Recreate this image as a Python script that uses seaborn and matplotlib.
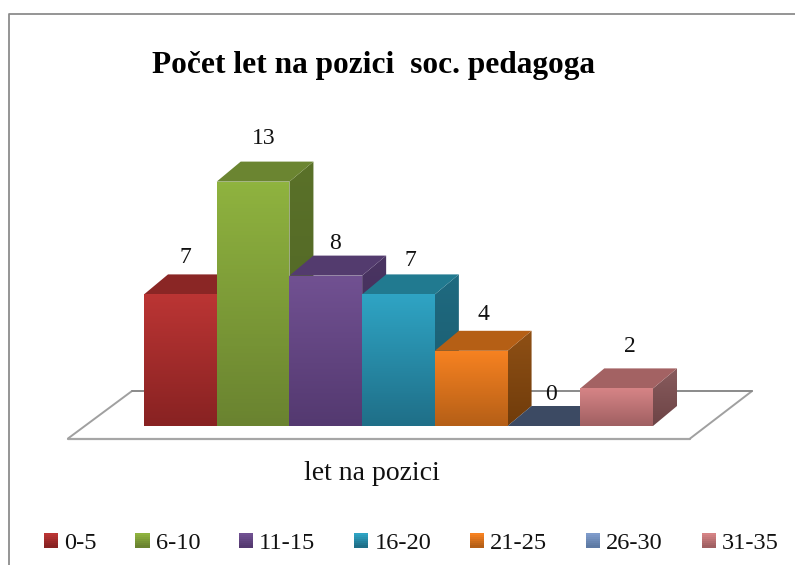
"""
Počet let na pozici: faux 3D bars on top of a seaborn barplot
"""
import matplotlib
matplotlib.use("Agg")
import matplotlib.pyplot as plt
from matplotlib.colors import LinearSegmentedColormap
from matplotlib.legend_handler import HandlerPatch
from matplotlib.lines import Line2D
from matplotlib.patches import Patch, Polygon, Rectangle
import numpy as np
import pandas as pd
import seaborn as sns

categories = ["0-5", "6-10", "11-15", "16-20", "21-25", "26-30", "31-35"]
counts = [7, 13, 8, 7, 4, 0, 2]
title = "Počet let na pozici  soc. pedagoga"
xlabel = "let na pozici"

front_top = ["#bb3534", "#8fb33f", "#715192", "#2fa4c4", "#f78221", "#7f9ccb", "#d68486"]
front_bottom = ["#882222", "#6a8330", "#543970", "#1f6f88", "#b55f17", "#5e7aa4", "#a06062"]
top_face = ["#8a2625", "#6b8531", "#533b6e", "#217a90", "#b55f15", "#3c4a63", "#a36263"]
side_top = ["#6e1c1c", "#5a7129", "#4a3462", "#1f6a80", "#8f5015", "#4b5f80", "#885b5d"]
side_bottom = ["#5c1717", "#4f6324", "#3f2b55", "#1a5a6d", "#703c0b", "#3c4a63", "#6d4446"]

label_dx = [5, 11, 9, 12, 12, 7, 13]
label_dy = [37, 43, 32, 34, 36, 32, 42]

W, H = 795, 565
PX_PER_UNIT = 18.8
PX_PER_BAR = 72.7
DEPTH_X = 24 / PX_PER_BAR
DEPTH_Y = 20 / PX_PER_UNIT

sns.set_style("white")
plt.rcParams["font.family"] = ["Liberation Serif", "DejaVu Serif"]

fig = plt.figure(figsize=(W / 100, H / 100), dpi=100)
ax = fig.add_axes([144 / W, (H - 426) / H, 509 / W, 366 / H])
df = pd.DataFrame({"years": categories, "count": counts})
sns.barplot(data=df, x="years", y="count", hue="years", order=categories,
            hue_order=categories, palette=front_top, width=1, linewidth=0,
            legend=False, ax=ax)
xlim = (-0.5, 6.5)
ylim = (0, 366 / PX_PER_UNIT)


def px_x(px):
    return (px - 144) / PX_PER_BAR - 0.5


def px_y(py):
    return (426 - py) / PX_PER_UNIT


def gradient_poly(verts, c_top, c_bottom, z):
    """Polygon filled with a vertical gradient, may stick out of the axes."""
    poly = Polygon(verts, closed=True, fc="none", ec="none", transform=ax.transData,
                   clip_on=False, zorder=z)
    ax.add_patch(poly)
    xs, ys = zip(*verts)
    cmap = LinearSegmentedColormap.from_list("g", [c_top, c_bottom])
    im = ax.imshow(np.linspace(0, 1, 64)[:, None], cmap=cmap, aspect="auto",
                   extent=(min(xs), max(xs), min(ys), max(ys)), zorder=z)
    im.set_clip_box(fig.bbox)
    im.set_clip_path(poly)


# floor plane behind the bars
floor_x = [px_x(68), px_x(690), px_x(752), px_x(132)]
floor_y = [px_y(438.5), px_y(438.5), px_y(391), px_y(391)]
ax.add_patch(Polygon(list(zip(floor_x, floor_y)), closed=True, fc="white", ec="none",
                     clip_on=False, zorder=1))
ax.plot(floor_x[:2], floor_y[:2], color="#a6a6a6", lw=1.6, clip_on=False, zorder=1.1)
ax.plot(floor_x[1:3], floor_y[1:3], color="#a0a0a0", lw=1.4, clip_on=False, zorder=1.1)
ax.plot([floor_x[3], floor_x[0]], [floor_y[3], floor_y[0]], color="#a0a0a0", lw=1.4,
        clip_on=False, zorder=1.1)
ax.plot(floor_x[2:4], floor_y[2:4], color="#8a8a8a", lw=1.4, clip_on=False, zorder=1.1)

# each bar overlaps the one on its left
for i, bar in enumerate(ax.patches[:len(categories)]):
    x0, x1 = bar.get_x(), bar.get_x() + bar.get_width()
    h = bar.get_height()
    z = 3 + i
    bar.set_visible(False)
    side = [(x1, 0), (x1 + DEPTH_X, DEPTH_Y), (x1 + DEPTH_X, h + DEPTH_Y), (x1, h)]
    if h > 0:
        gradient_poly(side, side_top[i], side_bottom[i], z)
    ax.add_patch(Polygon([(x0, h), (x1, h), (x1 + DEPTH_X, h + DEPTH_Y), (x0 + DEPTH_X, h + DEPTH_Y)],
                         closed=True, fc=top_face[i], ec="none", clip_on=False, zorder=z + 0.1))
    if h > 0:
        gradient_poly([(x0, 0), (x1, 0), (x1, h), (x0, h)], front_top[i], front_bottom[i], z + 0.2)
    ax.annotate(str(counts[i]), (i, h), xytext=(label_dx[i] * 0.72, label_dy[i] * 0.72),
                textcoords="offset points", ha="center", va="center", fontsize=17,
                color="#111111", zorder=20, annotation_clip=False)

ax.set_xlim(xlim)
ax.set_ylim(ylim)
ax.set_xticks([])
ax.set_yticks([])
ax.set_ylabel("")
ax.patch.set_alpha(0)
sns.despine(ax=ax, left=True, bottom=True)
ax.set_xlabel(xlabel, fontsize=20, labelpad=25, x=(372 - 144) / 509, color="#111111")
ax.set_title(title, fontsize=22.6, fontweight="bold", x=(374 - 144) / 509, y=1, pad=-9, color="black")


class GradientSquare(HandlerPatch):
    def create_artists(self, legend, orig, xd, yd, width, height, fontsize, trans):
        top, bottom = orig.gradient
        cmap = LinearSegmentedColormap.from_list("g", [top, bottom])
        n = 7
        return [Rectangle((-xd, -yd + height * (n - 1 - k) / n), width, height / n + 0.3,
                          fc=cmap(k / (n - 1)), ec="none", transform=trans) for k in range(n)]


handles = []
for c_top, c_bottom, label in zip(front_top, front_bottom, categories):
    p = Patch(label=label)
    p.gradient = (c_top, c_bottom)
    handles.append(p)
fig.legend(handles=handles, loc="lower left", bbox_to_anchor=(44 / W, 11 / H), ncol=len(categories),
           frameon=False, fontsize=17.6, handlelength=0.58, handleheight=0.55, handletextpad=0.25,
           columnspacing=1.58, borderpad=0, borderaxespad=0, labelcolor="#111111",
           handler_map={Patch: GradientSquare()})

# chart frame, cut off at the right and bottom of the picture
fig.add_artist(Line2D([9 / W, 9 / W, 1], [0, 1 - 13.5 / H, 1 - 13.5 / H], color="#8c8c8c", lw=1.3))

fig.savefig("out.png", dpi=100)
